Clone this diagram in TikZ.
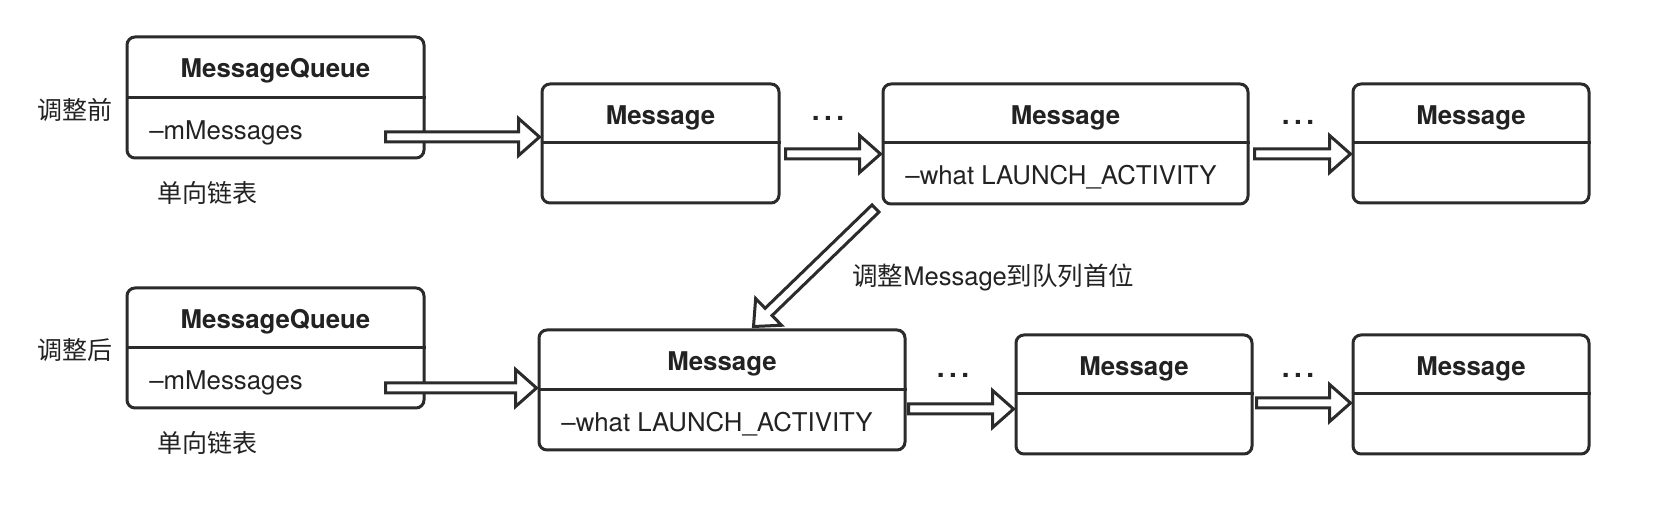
\documentclass[tikz,border=0pt]{standalone}
\usepackage{fontspec}
\setmainfont{TeX Gyre Heros}
\newfontfamily\cjkfont{Noto Sans CJK SC}
\usetikzlibrary{calc}
\definecolor{lc}{HTML}{2B2B2B}
\definecolor{tc}{HTML}{222222}
\tikzset{
  box/.style={draw=lc, line width=1.5pt, rounded corners=4pt, inner sep=0pt, fill=white},
  divline/.style={draw=lc, line width=1.5pt},
  ttl/.style={font=\fontsize{12.9pt}{14pt}\selectfont\bfseries, text=tc, inner sep=0pt, anchor=base},
  attr/.style={font=\fontsize{12.9pt}{14pt}\selectfont, text=tc, inner sep=0pt, anchor=base west},
  zhlabel/.style={font=\fontsize{12.5pt}{14pt}\selectfont\cjkfont, text=tc, inner sep=0pt, anchor=base},
  movelabel/.style={font=\fontsize{12.75pt}{14pt}\selectfont, text=tc, inner sep=0pt, anchor=base west},
  dotsnode/.style={font=\fontsize{14pt}{15pt}\selectfont\bfseries, text=tc, inner sep=0pt, anchor=base},
  arrowline/.style={draw=lc, fill=white, line width=1.5pt, line join=miter},
}
% name, L, T, R, B, divider y, title
\newcommand\umlboxe[7]{%
  \node[box, minimum width={(#4-#2)*0.5pt}, minimum height={(#5-#3)*0.5pt}] (#1) at ({(#2+#4)/2},{(#3+#5)/2}) {};
  \draw[divline] (#1.west |- 0,#6) -- (#1.east |- 0,#6);
  \node[ttl] (#1-t) at ({(#2+#4)/2},{#3+41}) {#7};
}
\newcommand\umlbox[8]{%
  \umlboxe{#1}{#2}{#3}{#4}{#5}{#6}{#7}
  \node[attr] (#1-a) at ({#2+22},{#6+42}) {#8};
}
\newcommand\hollowarrow[2]{%
  \path ($(#2)!10.5pt!(#1)$) coordinate (hq-#1);
  \draw[arrowline] ($(#1)!2.5pt!90:(#2)$) -- ($(hq-#1)!2.5pt!90:(#2)$) -- ($(hq-#1)!9.3pt!90:(#2)$) -- (#2) -- ($(hq-#1)!9.3pt!-90:(#2)$) -- ($(hq-#1)!2.5pt!-90:(#2)$) -- ($(#1)!2.5pt!-90:(#2)$) -- cycle;
}
\newcommand\zh[1]{{\cjkfont #1}}
\begin{document}
\begin{tikzpicture}[x=0.5pt, y=-0.5pt]
\useasboundingbox[fill=white] (0,0) rectangle (1660,512);

% top row
\umlbox{MQ1}{127}{37}{424}{158}{98}{MessageQueue}{–mMessages}
\umlboxe{A}{542}{84}{779}{203}{143}{Message}
\umlbox{B}{883}{84}{1248}{204}{143}{Message}{–what LAUNCH\_ACTIVITY}
\umlboxe{C}{1353}{84}{1589}{203}{143}{Message}

% bottom row
\umlbox{MQ2}{127}{288}{424}{408}{348}{MessageQueue}{–mMessages}
\umlbox{D}{539}{330}{905}{450}{390}{Message}{–what LAUNCH\_ACTIVITY}
\umlboxe{E}{1016}{335}{1252}{454}{394}{Message}
\umlboxe{F}{1353}{335}{1589}{454}{394}{Message}

% labels
\node[zhlabel] (lbBefore) at (74.5,120) {调整前};
\node[zhlabel] (lbList1) at (207,202.5) {单向链表};
\node[zhlabel] (lbAfter) at (74.5,359.5) {调整后};
\node[zhlabel] (lbList2) at (207,452.5) {单向链表};
\node[movelabel] (lbMove) at (852,286) {\zh{调整}Message\zh{到队列首位}};

% dots
\node[dotsnode] (dt1) at (828,121) {.\kern2.2pt.\kern2.2pt.};
\node[dotsnode] (dt2) at (1298,125) {.\kern2.2pt.\kern2.2pt.};
\node[dotsnode] (db1) at (953,378) {.\kern2.2pt.\kern2.2pt.};
\node[dotsnode] (db2) at (1298,378) {.\kern2.2pt.\kern2.2pt.};

% arrow end points
\coordinate (a1s) at ($(MQ1.east |- 0,137)+(-40,0)$);
\coordinate (a1e) at ($(A.west |- 0,137)+(-1,0)$);
\coordinate (a2s) at ($(A.east |- 0,154)+(5,0)$);
\coordinate (a2e) at ($(B.west |- 0,154)+(-1,0)$);
\coordinate (a3s) at ($(B.east |- 0,154)+(5,0)$);
\coordinate (a3e) at ($(C.west |- 0,154)+(-1,0)$);
\coordinate (b1s) at ($(MQ2.east |- 0,388)+(-40,0)$);
\coordinate (b1e) at ($(D.west |- 0,388)+(-1,0)$);
\coordinate (b2s) at ($(D.east |- 0,409)+(2,0)$);
\coordinate (b2e) at ($(E.west |- 0,409)+(-1,0)$);
\coordinate (b3s) at ($(E.east |- 0,403)+(3,0)$);
\coordinate (b3e) at ($(F.west |- 0,403)+(-1,0)$);
\coordinate (ds) at ($(B.south west)+(-6,3)$);
\coordinate (de) at ($(D.north west)+(216,-2)$);

\hollowarrow{a1s}{a1e}
\hollowarrow{a2s}{a2e}
\hollowarrow{a3s}{a3e}
\hollowarrow{b1s}{b1e}
\hollowarrow{b2s}{b2e}
\hollowarrow{b3s}{b3e}
\hollowarrow{ds}{de}
\end{tikzpicture}
\end{document}
